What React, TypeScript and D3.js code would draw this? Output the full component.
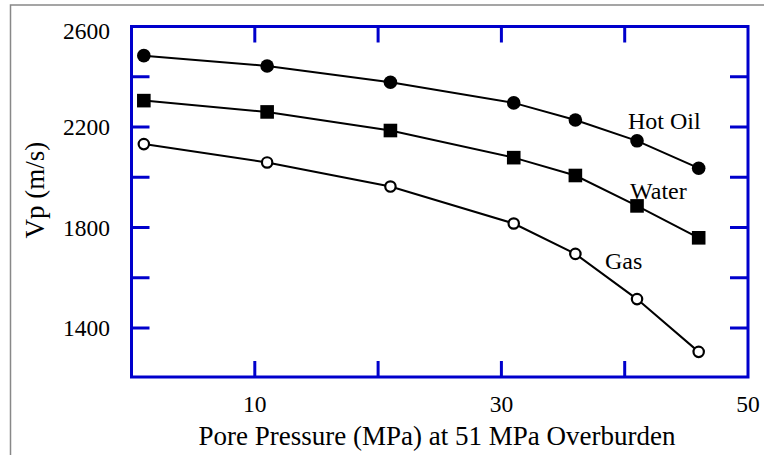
import React from "react";
import { scaleLinear, line } from "d3";

// pore pressure (MPa), same for all three fluids
const pressure = [1, 11, 21, 31, 36, 41, 46];

const hotOil = [2484, 2443, 2378, 2296, 2228, 2145, 2036];
const water = [2305, 2260, 2186, 2078, 2007, 1886, 1759];
const gas = [2132, 2059, 1963, 1816, 1695, 1515, 1305];

const xTicks = [10, 20, 30, 40];
const xTickLabels = [10, 30, 50];
const yTicks = [2400, 2200, 2000, 1800, 1600, 1400];
const yTickLabels = [2600, 2200, 1800, 1400];

const BLUE = "#0000cc";
const FONT = "'Liberation Serif', 'Times New Roman', serif";

export default function App() {
  const width = 764,
    height = 455;
  const left = 131.5,
    right = 748,
    top = 26.5,
    bottom = 377;

  const x = scaleLinear().domain([0, 50]).range([left, right]);
  const y = scaleLinear().domain([1205, 2600]).range([bottom, top]);

  const path = line<number>()
    .x((_, i) => x(pressure[i]))
    .y(d => y(d));

  return (
    <svg
      width={width}
      height={height}
      style={{ position: "absolute", left: 0, top: 0, background: "#fff" }}
    >
      {/* outer frame of the figure */}
      <rect x={10.5} y={5} width={800} height={500} fill="none" stroke="#888" strokeWidth={1.5} />

      {/* blue plot box */}
      <rect
        x={left}
        y={top}
        width={right - left}
        height={bottom - top}
        fill="none"
        stroke={BLUE}
        strokeWidth={3}
      />
      {yTicks.map(t => (
        <g key={"y" + t}>
          <line x1={left} x2={left + 18} y1={y(t)} y2={y(t)} stroke={BLUE} strokeWidth={3} />
          <line x1={right - 18} x2={right} y1={y(t)} y2={y(t)} stroke={BLUE} strokeWidth={3} />
        </g>
      ))}
      {xTicks.map(t => (
        <g key={"x" + t}>
          <line x1={x(t)} x2={x(t)} y1={bottom} y2={bottom - 16} stroke={BLUE} strokeWidth={3} />
          <line x1={x(t)} x2={x(t)} y1={top} y2={top + 16} stroke={BLUE} strokeWidth={3} />
        </g>
      ))}

      {/* tick labels */}
      <g fontFamily={FONT} fontSize={23.5} fill="#000">
        {yTickLabels.map(t => (
          <text key={t} x={110} y={y(t) + (t === 2600 ? 12 : 8)} textAnchor="end">
            {t}
          </text>
        ))}
        {xTickLabels.map(t => (
          <text key={t} x={x(t)} y={411.5} textAnchor="middle">
            {t}
          </text>
        ))}
      </g>

      {/* axis titles */}
      <text x={437} y={445} textAnchor="middle" fontFamily={FONT} fontSize={27}>
        Pore Pressure (MPa) at 51 MPa Overburden
      </text>
      <text
        transform="translate(43.5, 190) rotate(-90)"
        textAnchor="middle"
        fontFamily={FONT}
        fontSize={27}
      >
        Vp (m/s)
      </text>

      {/* series */}
      <path d={path(hotOil) ?? ""} fill="none" stroke="#000" strokeWidth={2} />
      <path d={path(water) ?? ""} fill="none" stroke="#000" strokeWidth={2} />
      <path d={path(gas) ?? ""} fill="none" stroke="#000" strokeWidth={2} />

      {hotOil.map((v, i) => (
        <circle key={"o" + i} cx={x(pressure[i])} cy={y(v)} r={6.8} fill="#000" />
      ))}
      {water.map((v, i) => (
        <rect
          key={"w" + i}
          x={x(pressure[i]) - 6.8}
          y={y(v) - 6.8}
          width={13.6}
          height={13.6}
          fill="#000"
        />
      ))}
      {gas.map((v, i) => (
        <circle
          key={"g" + i}
          cx={x(pressure[i])}
          cy={y(v)}
          r={5.2}
          fill="#fff"
          stroke="#000"
          strokeWidth={2.2}
        />
      ))}

      {/* series labels */}
      <g fontFamily={FONT} fontSize={24} fill="#000">
        <text x={628} y={128.5}>Hot Oil</text>
        <text x={630} y={198.5}>Water</text>
        <text x={605} y={268.5}>Gas</text>
      </g>
    </svg>
  );
}
